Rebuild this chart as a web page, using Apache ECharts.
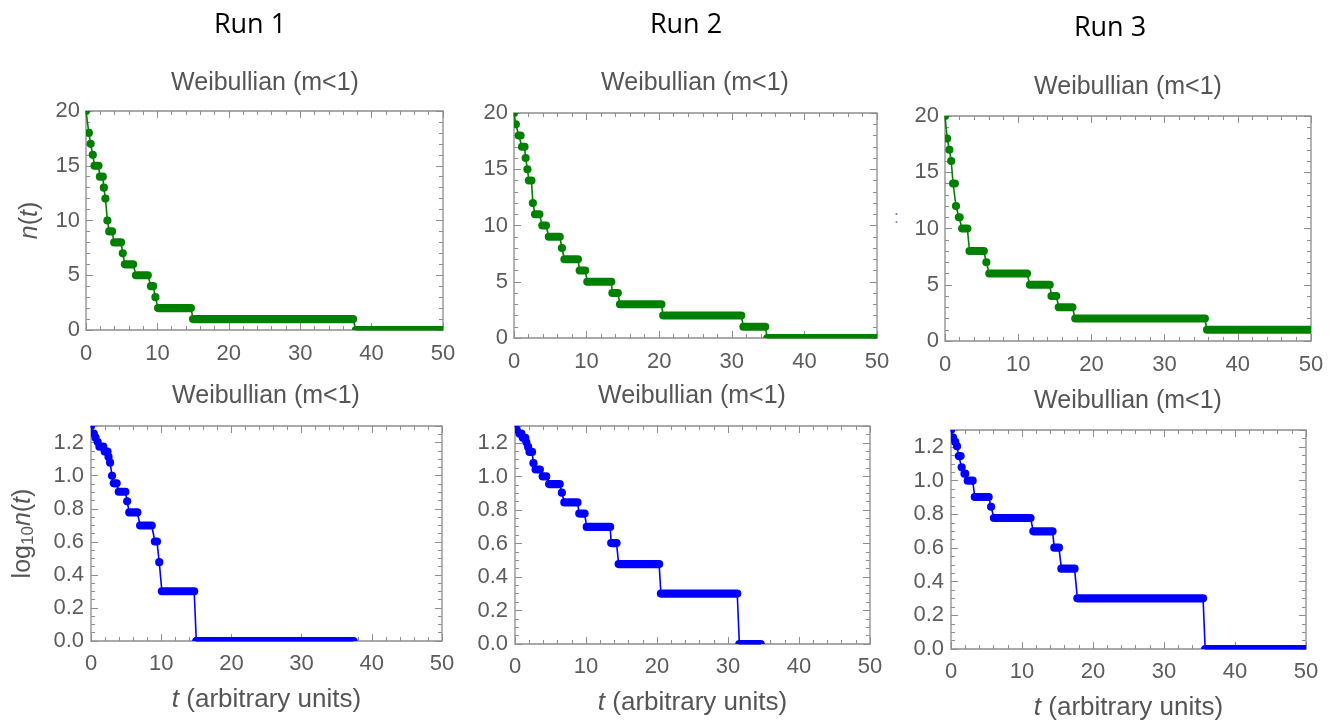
<!DOCTYPE html>
<html>
<head>
<meta charset="utf-8">
<script src="https://cdn.jsdelivr.net/npm/echarts@6/dist/echarts.min.js"></script>
<style>
  html, body { margin: 0; padding: 0; background: #ffffff; }
  #chart { width: 1334px; height: 723px; }
</style>
</head>
<body>
<div id="chart"></div>
<script>
// Surviving count n(t) for each run, stored as plateaus:
// [first sample time, last sample time, count]
const run1Levels = [
  [0, 0, 20], [0.4, 0.4, 18], [0.65, 0.7, 17], [0.95, 1.0, 16], [1.2, 1.75, 15],
  [1.95, 2.35, 14], [2.5, 2.5, 13], [2.72, 2.72, 12], [3.0, 3.0, 10], [3.25, 3.65, 9],
  [3.95, 4.9, 8], [5.15, 5.15, 7], [5.45, 6.6, 6], [7.0, 8.65, 5], [9.1, 9.4, 4],
  [9.72, 9.72, 3], [10.1, 14.7, 2], [15.0, 37.4, 1], [37.8, 50, 0]
];
const run2Levels = [
  [0, 0, 20], [0.25, 0.3, 19], [0.65, 0.9, 18], [1.1, 1.45, 17], [1.6, 1.6, 16],
  [1.85, 1.85, 15], [2.05, 2.4, 14], [2.6, 2.6, 12], [2.9, 3.5, 11], [3.9, 4.4, 10],
  [4.8, 6.3, 9], [6.6, 6.6, 8], [6.95, 8.8, 7], [9.05, 9.8, 6], [10.1, 13.4, 5],
  [13.55, 14.3, 4], [14.6, 20.3, 3], [20.55, 31.3, 2], [31.6, 34.6, 1], [34.9, 50, 0]
];
const run3Levels = [
  [0, 0, 20], [0.3, 0.3, 18], [0.6, 0.65, 17], [0.85, 0.85, 16], [1.1, 1.35, 14],
  [1.5, 1.5, 12], [1.9, 2.0, 11], [2.35, 3.05, 10], [3.35, 5.3, 8], [5.65, 5.65, 7],
  [6.05, 11.2, 6], [11.6, 14.3, 5], [14.55, 15.2, 4], [15.55, 17.4, 3], [17.8, 35.5, 2],
  [35.8, 50, 1]
];

const runNames = ['Run 1', 'Run 2', 'Run 3'];
const panelTitle = 'Weibullian (m<1)';
const tTicks = [0, 10, 20, 30, 40, 50];
const nTicks = [0, 5, 10, 15, 20];
const logTicks = [0.0, 0.2, 0.4, 0.6, 0.8, 1.0, 1.2];

const runs = [run1Levels, run2Levels, run3Levels];

const FONT = '"Liberation Sans", Arial, Helvetica, sans-serif';
const FRAME = '#8d8d8d';
const LABEL = '#5c5c5c';
const GREEN = '#008000';
const BLUE = '#0000ff';

// plot boxes: linear panels on the top row, log10 panels below
const topGrids = [
  { left: 86, top: 111, width: 357, height: 219 },
  { left: 514, top: 113, width: 363, height: 225 },
  { left: 945, top: 116, width: 366, height: 225 }
];
const botGrids = [
  { left: 91, top: 426, width: 351, height: 215 },
  { left: 515, top: 426, width: 355, height: 218 },
  { left: 951, top: 430, width: 355, height: 219 }
];

const chart = echarts.init(document.getElementById('chart'), null, { renderer: 'canvas' });

const grid = [];
const xAxis = [];
const yAxis = [];
const series = [];
const title = [];

function tickAxis(base, extra) {
  return Object.assign({
    type: 'value',
    axisLine: { show: false, onZero: false },
    splitLine: { show: false },
    axisTick: { show: true, inside: true, length: 7, lineStyle: { color: FRAME, width: 1 } },
    axisLabel: { show: false }
  }, base, extra);
}

function minor(split) {
  return { show: true, splitNumber: split, length: 4, lineStyle: { color: FRAME, width: 1 } };
}

const labelStyle = { color: LABEL, fontSize: 22, fontFamily: FONT };
const nameRich = {
  i: { fontStyle: 'italic', fontSize: 25, lineHeight: 28, color: '#555', fontFamily: FONT },
  r: { fontSize: 25, lineHeight: 28, color: '#555', fontFamily: FONT },
  s: { fontSize: 17, lineHeight: 17, verticalAlign: 'bottom', color: '#555', fontFamily: FONT }
};
const xNameRich = {
  i: { fontStyle: 'italic', fontSize: 26, lineHeight: 30, color: '#555', fontFamily: FONT },
  r: { fontSize: 26, lineHeight: 30, color: '#555', fontFamily: FONT }
};

function isMultiple(v, step) {
  const q = v / step;
  return Math.abs(q - Math.round(q)) < 1e-6;
}

// framed panel: labelled bottom/left axes plus tick-only top/right axes
function addPanel(box, yTicks, yMax, yMinorSplit, yFmt, yName, yNameGap, xName, yLabelMargin, xLabelMargin) {
  const g = grid.length;
  grid.push(Object.assign({ show: true, borderColor: FRAME, borderWidth: 1.3, backgroundColor: '#fff' }, box));
  const xStep = tTicks[1] - tTicks[0];
  const yStep = yTicks[1] - yTicks[0];
  const xBase = { gridIndex: g, min: tTicks[0], max: tTicks[tTicks.length - 1], interval: xStep };
  const yBase = { gridIndex: g, min: yTicks[0], max: yMax, interval: yStep };

  const xi = xAxis.length;
  xAxis.push(tickAxis(xBase, {
    position: 'bottom',
    minorTick: minor(5),
    axisLabel: Object.assign({ show: true, margin: xLabelMargin }, labelStyle),
    name: xName || '',
    nameLocation: 'middle',
    nameGap: 44,
    nameTextStyle: { rich: xNameRich }
  }));
  xAxis.push(tickAxis(xBase, { position: 'top', minorTick: minor(5) }));

  const yi = yAxis.length;
  yAxis.push(tickAxis(yBase, {
    position: 'left',
    minorTick: minor(yMinorSplit),
    axisLabel: Object.assign({ show: true, margin: yLabelMargin, formatter: yFmt }, labelStyle),
    name: yName || '',
    nameLocation: 'middle',
    nameGap: yNameGap,
    nameTextStyle: { rich: nameRich }
  }));
  yAxis.push(tickAxis(yBase, { position: 'right', minorTick: minor(yMinorSplit) }));
  return { xi, yi };
}

// thick plateau: overlapping sample dots merge into a rounded bar
function renderLevel(params, api) {
  const p0 = api.coord([api.value(0), api.value(2)]);
  const p1 = api.coord([api.value(1), api.value(2)]);
  const color = api.visual('color');
  if (Math.abs(p1[0] - p0[0]) < 0.5) {
    return { type: 'circle', shape: { cx: p0[0], cy: p0[1], r: 4.1 }, style: { fill: color } };
  }
  return {
    type: 'line',
    shape: { x1: p0[0], y1: p0[1], x2: p1[0], y2: p1[1] },
    style: { stroke: color, lineWidth: 8.2, lineCap: 'round' }
  };
}

function addRunSeries(axes, levels, color) {
  const path = [];
  levels.forEach(l => { path.push([l[0], l[2]]); path.push([l[1], l[2]]); });
  series.push({
    type: 'line',
    xAxisIndex: axes.xi, yAxisIndex: axes.yi,
    data: path,
    showSymbol: false,
    lineStyle: { color: color, width: 1.6 },
    clip: true,
    silent: true,
    z: 2
  });
  series.push({
    type: 'custom',
    xAxisIndex: axes.xi, yAxisIndex: axes.yi,
    data: levels,
    encode: { x: [0, 1], y: 2 },
    renderItem: renderLevel,
    itemStyle: { color: color },
    clip: true,
    silent: true,
    z: 3
  });
}

const nFmt = v => (isMultiple(v, 5) ? String(v) : '');
const logFmt = v => (isMultiple(v, 0.2) && v <= 1.2 + 1e-9 ? v.toFixed(1) : '');
const logMax = Math.log10(20);

runs.forEach((levels, r) => {
  // linear panel
  const a = addPanel(topGrids[r], nTicks, nTicks[nTicks.length - 1], 5, nFmt,
    r === 0 ? '{i|n}{r|(}{i|t}{r|)}' : '', 42, '', 6, 13);
  addRunSeries(a, levels, GREEN);

  // log10 panel (count of zero has no logarithm)
  const logLevels = levels.filter(l => l[2] > 0).map(l => [l[0], l[1], Math.log10(l[2])]);
  const b = addPanel(botGrids[r], logTicks, logMax, 4, logFmt,
    r === 0 ? '{r|log}{s|10}{i|n}{r|(}{i|t}{r|)}' : '', 54,
    '{i|t}{r| (arbitrary units)}', 7, 12);
  addRunSeries(b, logLevels, BLUE);
});

// run headings and panel titles
const runCenters = [[250, 27], [686, 27], [1110, 30]];
runNames.forEach((name, r) => {
  title.push({
    text: name, left: runCenters[r][0], top: runCenters[r][1] - 15, padding: 0,
    textAlign: 'center',
    textStyle: { color: '#000', fontSize: 27, fontWeight: 'normal', fontFamily: '"Open Sans", sans-serif' }
  });
});
const titleCenters = [[265, 84], [695, 84], [1128, 88], [266, 397], [692, 397], [1128, 402]];
titleCenters.forEach(c => {
  title.push({
    text: panelTitle, left: c[0], top: c[1] - 13, padding: 0,
    textAlign: 'center',
    textStyle: { color: '#555', fontSize: 25, fontWeight: 'normal', fontFamily: FONT }
  });
});

chart.setOption({
  animation: false,
  backgroundColor: '#ffffff',
  title: title,
  grid: grid,
  xAxis: xAxis,
  yAxis: yAxis,
  series: series,
  graphic: [{
    type: 'text', left: 894, top: 209,
    style: { text: ':', fill: '#7a86a0', fontSize: 18, fontFamily: FONT }
  }]
});
</script>
</body>
</html>
